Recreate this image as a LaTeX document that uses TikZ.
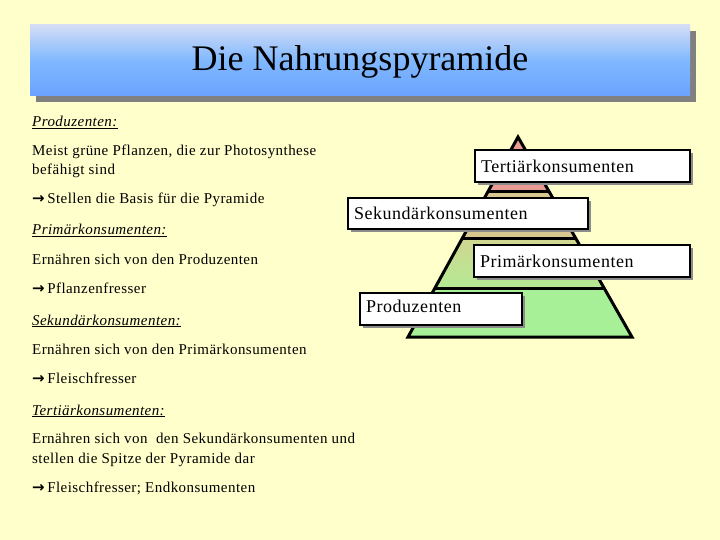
\documentclass[tikz,border=0pt]{standalone}
\usepackage{fontspec}
\setmainfont{Liberation Serif}
\newfontfamily\spaced[LetterSpace=3]{Liberation Serif}
\newfontfamily\symfont{DejaVu Sans}
\usetikzlibrary{calc,shadows}
\definecolor{bg}{HTML}{FFFFCC}
\definecolor{ttop}{HTML}{D4DDF6}
\definecolor{tmid}{HTML}{80B8FF}
\definecolor{tbot}{HTML}{6AA2FF}
\definecolor{tier1}{HTML}{E89C94}
\definecolor{tier2}{HTML}{D8C890}
\definecolor{tier3a}{HTML}{D0D690}
\definecolor{tier3b}{HTML}{B4EA94}
\definecolor{tier4}{HTML}{A8F098}
\newcommand{\arr}{{\symfont\bfseries\fontsize{15}{16}\selectfont →}\,}
\tikzset{
  body/.style={anchor=base west,inner sep=0pt,font=\spaced\fontsize{15}{18}\selectfont},
  head/.style={body},
  lbl/.style={draw=black,line width=1.4pt,fill=white,inner xsep=6pt,inner ysep=0pt,
    align=left,font=\spaced\fontsize{18}{20}\selectfont,
    drop shadow={shadow xshift=3pt,shadow yshift=-3pt,fill=black!45,opacity=1}},
  sep/.style={line width=3pt,black},
}
\begin{document}
\begin{tikzpicture}[x=1pt,y=-1pt]
\fill[bg] (0,0) rectangle (720,540);
\useasboundingbox (0,0) rectangle (720,540);
% title
\fill[black!50] (36,31) rectangle (696,102);
\shade[top color=ttop,bottom color=tbot,middle color=tmid] (30,25) rectangle (690,96);
\node[font=\fontsize{36}{40}\selectfont] (title) at (360,62) {Die Nahrungspyramide};
% pyramid
\coordinate (A) at (518,137);
\coordinate (BL) at (408,337);
\coordinate (BR) at (632,337);
\coordinate (L1) at ($(A)!0.275!(BL)$);
\coordinate (R1) at ($(A)!0.275!(BR)$);
\coordinate (L2) at ($(A)!0.505!(BL)$);
\coordinate (R2) at ($(A)!0.505!(BR)$);
\coordinate (L3) at ($(A)!0.755!(BL)$);
\coordinate (R3) at ($(A)!0.755!(BR)$);
\fill[tier1] (A) -- (L1) -- (R1) -- cycle;
\fill[tier2] (L1) -- (L2) -- (R2) -- (R1) -- cycle;
\shade[top color=tier3a,bottom color=tier3b] (L2) -- (L3) -- (R3) -- (R2) -- cycle;
\fill[tier4] (L3) -- (BL) -- (BR) -- (R3) -- cycle;
\draw[sep,line join=miter] (A) -- (BL) -- (BR) -- cycle;
\draw[sep] (L1) -- (R1);
\draw[sep] (L2) -- (R2);
\draw[sep] (L3) -- (R3);
% labels
\node[lbl,text width=203pt,minimum height=32pt] (t) at (582.5,166) {Tertiärkonsumenten};
\node[lbl,text width=228pt,minimum height=31pt] (s) at (468,213.5) {Sekundärkonsumenten};
\node[lbl,text width=204pt,minimum height=32pt] (p) at (582,261) {Primärkonsumenten};
\node[lbl,text width=150pt,minimum height=32pt,text depth=5pt] (pr) at (441,309) {Produzenten};
% left text
\node[head] (h1) at (32,127) {\underline{\textit{Produzenten:}}};
\node[body] (b1a) at (32,156) {Meist grüne Pflanzen, die zur Photosynthese};
\node[body] (b1b) at (32,175) {befähigt sind};
\node[body] (b1c) at (32,204) {\arr Stellen die Basis für die Pyramide};
\node[head] (h2) at (32,235) {\underline{\textit{Primärkonsumenten:}}};
\node[body] (b2a) at (32,264) {Ernähren sich von den Produzenten};
\node[body] (b2b) at (32,293) {\arr Pflanzenfresser};
\node[head] (h3) at (32,325) {\underline{\textit{Sekundärkonsumenten:}}};
\node[body] (b3a) at (32,354) {Ernähren sich von den Primärkonsumenten};
\node[body] (b3b) at (32,383) {\arr Fleischfresser};
\node[head] (h4) at (32,415) {\underline{\textit{Tertiärkonsumenten:}}};
\node[body] (b4a) at (32,443) {Ernähren sich von \ den Sekundärkonsumenten und};
\node[body] (b4b) at (32,463) {stellen die Spitze der Pyramide dar};
\node[body] (b4c) at (32,492) {\arr Fleischfresser; Endkonsumenten};
\end{tikzpicture}
\end{document}
